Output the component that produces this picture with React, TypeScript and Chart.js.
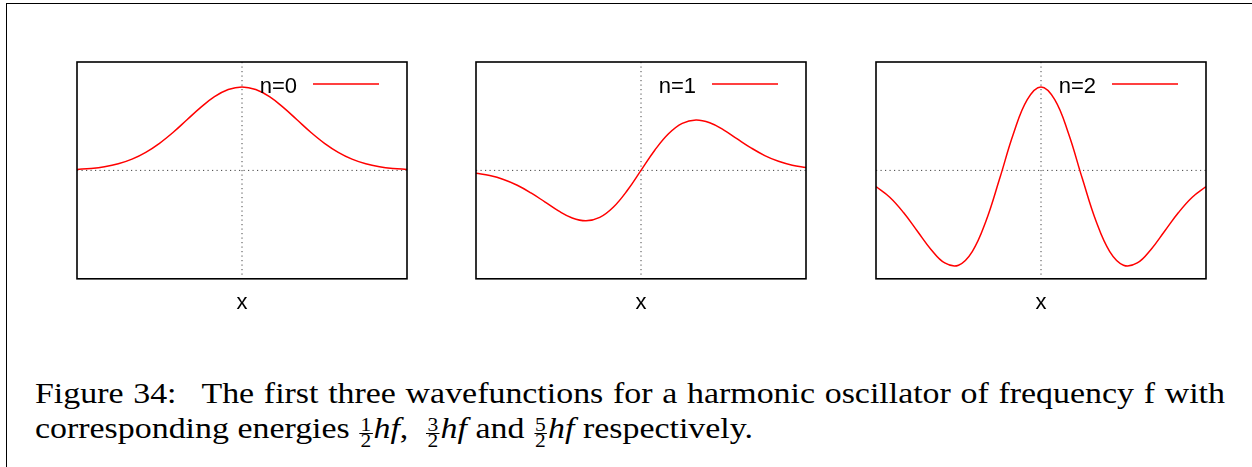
import React, { useEffect, useRef } from 'react';
import { Chart, registerables } from 'chart.js';

Chart.register(...registerables);

// x sample positions (dimensionless coordinate)
const xValues = [-3, -2.75, -2.5, -2.25, -2, -1.75, -1.5, -1.25, -1, -0.75, -0.5, -0.25, 0, 0.25, 0.5, 0.75, 1, 1.25, 1.5, 1.75, 2, 2.25, 2.5, 2.75, 3];

// wavefunction values (y axis runs from -1 to 1)
const psi0 = [0.009, 0.018, 0.034, 0.061, 0.104, 0.167, 0.25, 0.352, 0.467, 0.581, 0.68, 0.746, 0.77, 0.746, 0.68, 0.581, 0.467, 0.352, 0.25, 0.167, 0.104, 0.061, 0.034, 0.018, 0.009];
const psi1 = [-0.026, -0.048, -0.084, -0.137, -0.208, -0.29, -0.374, -0.439, -0.465, -0.434, -0.338, -0.186, 0, 0.186, 0.338, 0.434, 0.465, 0.439, 0.374, 0.29, 0.208, 0.137, 0.084, 0.048, 0.026];
const psi2 = [-0.15, -0.248, -0.389, -0.559, -0.729, -0.854, -0.875, -0.749, -0.467, -0.073, 0.34, 0.653, 0.77, 0.653, 0.34, -0.073, -0.467, -0.749, -0.875, -0.854, -0.729, -0.559, -0.389, -0.248, -0.15];

const seriesLabels = ['n=0', 'n=1', 'n=2'];
const seriesValues = [psi0, psi1, psi2];
const axisTitle = 'x';

const SANS = '"Liberation Sans", Arial, Helvetica, sans-serif';
const SERIF = '"Liberation Serif", "Times New Roman", serif';

const panelLefts = [77, 476, 876];
const BOX_W = 330;
const BOX_TOP = 62;

const framePlugin = {
  id: 'gnuplotFrame',
  beforeDatasetsDraw(chart: any) {
    const { ctx, chartArea: a, scales } = chart;
    const x0 = scales.x.getPixelForValue(0);
    const y0 = scales.y.getPixelForValue(0);
    ctx.save();
    ctx.strokeStyle = '#444';
    ctx.lineWidth = 1;
    ctx.setLineDash([1.2, 3.3]);
    ctx.beginPath();
    ctx.moveTo(a.left, y0);
    ctx.lineTo(a.right, y0);
    ctx.moveTo(x0, a.top);
    ctx.lineTo(x0, a.bottom);
    ctx.stroke();
    ctx.restore();
  },
  afterDraw(chart: any) {
    const { ctx, chartArea: a } = chart;
    ctx.save();
    ctx.strokeStyle = '#000';
    ctx.lineWidth = 1.6;
    ctx.strokeRect(a.left, a.top, a.right - a.left, a.bottom - a.top);
    // key
    const ds = chart.data.datasets[0];
    ctx.font = `22px ${SANS}`;
    ctx.fillStyle = '#000';
    ctx.textAlign = 'right';
    ctx.textBaseline = 'alphabetic';
    ctx.fillText(ds.label, a.right - 110, a.top + 30.5);
    ctx.strokeStyle = ds.borderColor;
    ctx.lineWidth = 1.5;
    ctx.beginPath();
    ctx.moveTo(a.right - 94, a.top + 22);
    ctx.lineTo(a.right - 28, a.top + 22);
    ctx.stroke();
    ctx.restore();
  },
};

function Panel({ label, values, left }: { label: string; values: number[]; left: number }) {
  const ref = useRef<HTMLCanvasElement | null>(null);
  useEffect(() => {
    if (!ref.current) return;
    const chart = new Chart(ref.current, {
      type: 'line',
      data: {
        datasets: [
          {
            label,
            data: xValues.map((x, i) => ({ x, y: values[i] })),
            borderColor: '#ff0000',
            borderWidth: 1.5,
            pointRadius: 0,
            tension: 0.4,
            fill: false,
          } as any,
        ],
      },
      options: {
        animation: false,
        responsive: false,
        events: [],
        layout: { padding: { left: 2, right: 2, top: 2, bottom: 0 } },
        plugins: {
          legend: { display: false },
          tooltip: { enabled: false },
        } as any,
        scales: {
          x: {
            type: 'linear',
            min: -3,
            max: 3,
            ticks: { display: false },
            grid: { display: false, drawTicks: false },
            border: { display: false },
            title: {
              display: true,
              text: axisTitle,
              color: '#000',
              font: { family: SANS, size: 22 },
              padding: { top: 10.8, bottom: 0 },
            },
          },
          y: { type: 'linear', min: -1, max: 1, display: false },
        },
      },
      plugins: [framePlugin],
    });
    return () => chart.destroy();
  }, [label, values]);
  return (
    <canvas
      ref={ref}
      width={BOX_W + 4}
      height={256}
      style={{ position: 'absolute', left: left - 2, top: BOX_TOP - 2, width: BOX_W + 4, height: 256 }}
    />
  );
}

function Frac({ n, d }: { n: string; d: string }) {
  return (
    <span
      style={{
        display: 'inline-block',
        verticalAlign: '-9px',
        textAlign: 'center',
        fontSize: 19,
        lineHeight: '14px',
        margin: '0 1px',
      }}
    >
      <span style={{ display: 'block', borderBottom: '1px solid #000', padding: '0 1px 1px' }}>{n}</span>
      <span style={{ display: 'block' }}>{d}</span>
    </span>
  );
}

const CAP_SCALE = 1.13;

export default function App() {
  return (
    <div
      style={{
        position: 'absolute',
        left: 0,
        top: 0,
        width: 1252,
        height: 467,
        overflow: 'hidden',
        background: '#fff',
      }}
    >
      <div
        style={{
          position: 'absolute',
          left: 6,
          top: 3,
          width: 1260,
          height: 480,
          borderTop: '1px solid #000',
          borderLeft: '1px solid #000',
        }}
      />
      {seriesLabels.map((lab, i) => (
        <Panel key={lab} label={lab} values={seriesValues[i]} left={panelLefts[i]} />
      ))}
      <div
        style={{
          position: 'absolute',
          left: 35,
          top: 375,
          width: 1190 / CAP_SCALE,
          transform: `scaleX(${CAP_SCALE})`,
          transformOrigin: 'left top',
          fontFamily: SERIF,
          fontSize: 30,
          lineHeight: '35px',
          color: '#000',
        }}
      >
        <div style={{ textAlign: 'justify', textAlignLast: 'justify' } as any}>
          Figure 34:<span style={{ display: 'inline-block', width: 14 }} /> The first three wavefunctions for a harmonic oscillator of frequency f with
        </div>
        <div>
          corresponding energies <Frac n="1" d="2" />
          <i>hf</i>,{'\u00a0'} <Frac n="3" d="2" />
          <i>hf</i> and <Frac n="5" d="2" />
          <i>hf</i> respectively.
        </div>
      </div>
    </div>
  );
}
